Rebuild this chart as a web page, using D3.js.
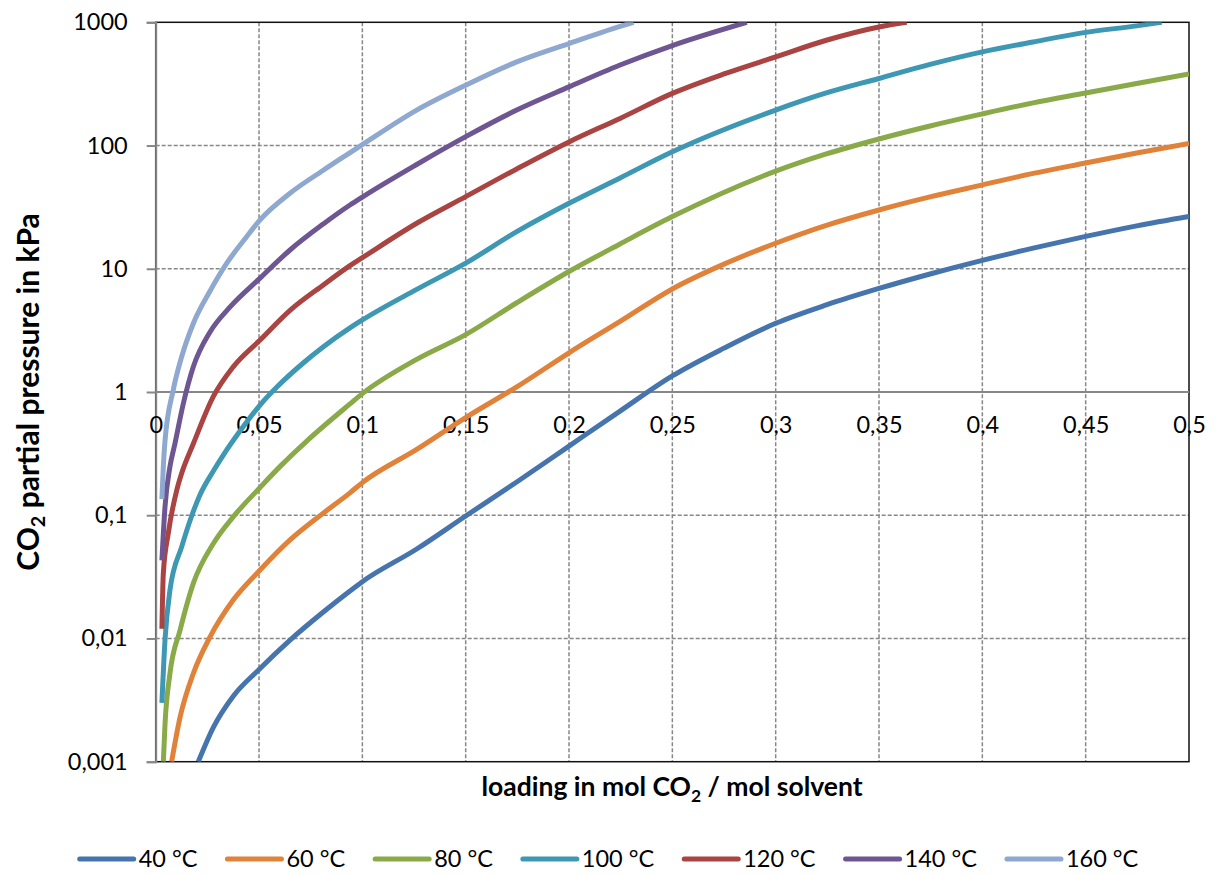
<!DOCTYPE html>
<html>
<head>
<meta charset="utf-8">
<script src="https://cdn.jsdelivr.net/npm/d3@7"></script>
<style>
  body { margin: 0; background: #fff; }
  svg { display: block; font-family: Lato, "Open Sans", sans-serif; }
</style>
</head>
<body>
<svg id="chart" width="1221" height="875"></svg>
<script>
// Equilibrium CO2 partial pressure vs. loading, one curve per temperature
const seriesNames = ["40 °C", "60 °C", "80 °C", "100 °C", "120 °C", "140 °C", "160 °C"];
const seriesColors = ["#4674AC", "#E0823A", "#8AAA4A", "#3E98B3", "#A94442", "#6E5693", "#8EA8D0"];

const xTicks = [0, 0.05, 0.1, 0.15, 0.2, 0.25, 0.3, 0.35, 0.4, 0.45, 0.5];
const xTickLabels = ["0", "0,05", "0,1", "0,15", "0,2", "0,25", "0,3", "0,35", "0,4", "0,45", "0,5"];
const yTicks = [0.001, 0.01, 0.1, 1, 10, 100, 1000];
const yTickLabels = ["0,001", "0,01", "0,1", "1", "10", "100", "1000"];

// [loading (mol CO2 / mol solvent), partial pressure (kPa)]
const p40 = [[0.0206, 0.001], [0.0279, 0.0019], [0.0375, 0.0034], [0.05, 0.0056], [0.065, 0.0097],
  [0.0811, 0.0164], [0.094, 0.0243], [0.1, 0.0289], [0.1263, 0.0532], [0.15, 0.0986], [0.1747, 0.186],
  [0.2, 0.364], [0.2247, 0.70], [0.25, 1.35], [0.275, 2.27], [0.3, 3.61], [0.3245, 5.09], [0.35, 6.92],
  [0.3747, 9.07], [0.4, 11.7], [0.4246, 14.7], [0.45, 18.3], [0.4747, 22.3], [0.5, 26.6]];
const p60 = [[0.0077, 0.001], [0.0118, 0.0023], [0.0182, 0.0052], [0.0263, 0.0103], [0.0375, 0.0205],
  [0.0505, 0.0359], [0.065, 0.063], [0.0811, 0.104], [0.094, 0.152], [0.1, 0.184], [0.1263, 0.342],
  [0.15, 0.62], [0.1747, 1.1], [0.2, 2.08], [0.2247, 3.74], [0.25, 6.86], [0.275, 10.9], [0.3, 16.1],
  [0.3245, 22.5], [0.35, 30], [0.3747, 38.3], [0.4, 47.9], [0.4246, 59.4], [0.45, 72.2], [0.4747, 87.1],
  [0.5, 104]];
const p80 = [[0.0037, 0.001], [0.0045, 0.002], [0.0069, 0.0052], [0.0118, 0.0117], [0.0182, 0.028],
  [0.0279, 0.059], [0.0375, 0.097], [0.0505, 0.168], [0.0601, 0.248], [0.0731, 0.4], [0.094, 0.8],
  [0.1, 0.97], [0.1263, 1.84], [0.15, 2.92], [0.1747, 5.3], [0.2, 9.5], [0.2247, 15.9], [0.25, 26.5],
  [0.3, 62], [0.3245, 85.5], [0.35, 113], [0.3747, 144], [0.4, 180.5], [0.4246, 222], [0.45, 267],
  [0.4747, 319], [0.5, 381]];
const p100 = [[0.003, 0.003], [0.0045, 0.0097], [0.0069, 0.0247], [0.0126, 0.0556], [0.0174, 0.0986],
  [0.0214, 0.146], [0.0279, 0.2285], [0.0327, 0.308], [0.0408, 0.483], [0.0505, 0.784], [0.0601, 1.16],
  [0.0714, 1.72], [0.081, 2.32], [0.094, 3.31], [0.1, 3.84], [0.1263, 6.8], [0.15, 11.1], [0.1747, 20],
  [0.2, 34], [0.2247, 54.6], [0.25, 89], [0.3, 194], [0.3245, 267], [0.35, 350], [0.3747, 455],
  [0.4, 575], [0.4246, 693], [0.45, 828], [0.4747, 935], [0.4868, 1000]];
const p120 = [[0.003, 0.012], [0.0037, 0.034], [0.0061, 0.0716], [0.0102, 0.16], [0.0126, 0.22],
  [0.0182, 0.38], [0.0279, 0.92], [0.0375, 1.6], [0.0505, 2.64], [0.065, 4.6], [0.0811, 7.39],
  [0.094, 10.6], [0.1, 12.3], [0.1263, 23.4], [0.15, 38.5], [0.1747, 64.6], [0.2, 107], [0.2247, 166],
  [0.25, 265], [0.275, 381], [0.3, 524], [0.3245, 715], [0.35, 917], [0.3634, 1000]];
const p140 = [[0.003, 0.043], [0.0045, 0.117], [0.0069, 0.248], [0.0093, 0.38], [0.0134, 0.81],
  [0.0182, 1.6], [0.0263, 3.07], [0.036, 4.9], [0.0505, 8.4], [0.065, 14.2], [0.0811, 23.1],
  [0.094, 32.9], [0.1, 38.2], [0.1263, 70.2], [0.15, 118], [0.1747, 194], [0.2, 299], [0.2247, 450],
  [0.25, 648], [0.286, 1000]];
const p160 = [[0.003, 0.135], [0.0037, 0.25], [0.0045, 0.4], [0.0085, 1.04], [0.0126, 1.94],
  [0.0182, 3.6], [0.0263, 6.6], [0.0344, 11.1], [0.044, 18.2], [0.0505, 24.9], [0.065, 41],
  [0.0811, 63], [0.0924, 84], [0.1, 101.7], [0.1263, 194], [0.15, 309], [0.1747, 477], [0.2, 672],
  [0.2247, 925], [0.2312, 1000]];

const seriesData = [p40, p60, p80, p100, p120, p140, p160];

const svg = d3.select("#chart");
const plotLeft = 155.7, plotRight = 1189, plotTop = 22.3, plotBottom = 761.7;

const x = d3.scaleLinear().domain([0, 0.5]).range([plotLeft, plotRight]);
const y = d3.scaleLog().domain([0.001, 1000]).range([plotBottom, plotTop]);

const fontSize = 23.5;
const gridColor = "#878787";

// Plot-area clip so curves stop at the frame
svg.append("defs").append("clipPath").attr("id", "plot-clip")
  .append("rect").attr("x", plotLeft).attr("y", plotTop)
  .attr("width", plotRight - plotLeft).attr("height", plotBottom - plotTop);

// Dashed gridlines
const grid = svg.append("g");
grid.selectAll("line.v").data(xTicks.slice(1, -1)).join("line")
  .attr("x1", d => x(d)).attr("x2", d => x(d))
  .attr("y1", plotTop).attr("y2", plotBottom)
  .attr("stroke", gridColor).attr("stroke-width", 1.5).attr("stroke-dasharray", "4,2");
grid.selectAll("line.h").data(yTicks.filter(v => v !== 1 && v !== 0.001 && v !== 1000)).join("line")
  .attr("x1", plotLeft).attr("x2", plotRight)
  .attr("y1", d => y(d)).attr("y2", d => y(d))
  .attr("stroke", gridColor).attr("stroke-width", 1.5).attr("stroke-dasharray", "4,2");

// Plot frame
svg.append("rect").attr("x", plotLeft).attr("y", plotTop)
  .attr("width", plotRight - plotLeft).attr("height", plotBottom - plotTop)
  .attr("fill", "none").attr("stroke", "#111").attr("stroke-width", 1.5);

// Horizontal axis line crossing at 1 kPa
svg.append("line").attr("x1", plotLeft).attr("x2", plotRight)
  .attr("y1", y(1)).attr("y2", y(1))
  .attr("stroke", gridColor).attr("stroke-width", 2);

// Vertical axis with outward ticks
const yAxis = d3.axisLeft(y).tickValues(yTicks)
  .tickFormat((d, i) => yTickLabels[i]).tickSize(9).tickPadding(19);
const yAxisG = svg.append("g").attr("transform", `translate(${plotLeft},0)`).call(yAxis);
yAxisG.select(".domain").attr("stroke", gridColor).attr("stroke-width", 2);
yAxisG.selectAll(".tick line").attr("stroke", gridColor).attr("stroke-width", 2);
yAxisG.selectAll(".tick text").attr("font-size", fontSize).attr("font-family", "Lato")
  .attr("fill", "#000");

// Horizontal tick labels hang below the 1 kPa line
const xAxis = d3.axisBottom(x).tickValues(xTicks)
  .tickFormat((d, i) => xTickLabels[i]).tickSize(0).tickPadding(24);
const xAxisG = svg.append("g").attr("transform", `translate(0,${y(1)})`).call(xAxis);
xAxisG.select(".domain").remove();
xAxisG.selectAll(".tick text").attr("font-size", fontSize).attr("font-family", "Lato")
  .attr("fill", "#000");

// Curves
const line = d3.line().x(d => x(d[0])).y(d => y(d[1])).curve(d3.curveMonotoneX);
svg.append("g").attr("clip-path", "url(#plot-clip)")
  .selectAll("path").data(seriesData).join("path")
  .attr("d", line)
  .attr("fill", "none")
  .attr("stroke", (d, i) => seriesColors[i])
  .attr("stroke-width", 5)
  .attr("stroke-linejoin", "round")
  .attr("stroke-linecap", "butt");

// Axis titles
const xTitleSize = 26.5;
const xTitle = svg.append("text")
  .attr("x", 672).attr("y", 796)
  .attr("text-anchor", "middle")
  .attr("font-size", xTitleSize).attr("font-weight", "bold").attr("fill", "#000");
xTitle.append("tspan").text("loading in mol CO");
xTitle.append("tspan").text("2").attr("font-size", xTitleSize * 0.66).attr("dy", 6);
xTitle.append("tspan").text(" / mol solvent").attr("dy", -6);

const yTitleSize = 30;
const yTitle = svg.append("text")
  .attr("transform", `translate(39,${(plotTop + plotBottom) / 2}) rotate(-90)`)
  .attr("text-anchor", "middle")
  .attr("font-size", yTitleSize).attr("font-weight", "bold").attr("fill", "#000");
yTitle.append("tspan").text("CO");
yTitle.append("tspan").text("2").attr("font-size", yTitleSize * 0.66).attr("dy", 6);
yTitle.append("tspan").text(" partial pressure in kPa").attr("dy", -6);

// Legend row
const legend = svg.append("g");
const legendY = 859, swatch = 54, swatchGap = 5, itemGap = 30;
const items = legend.selectAll("g").data(seriesNames).join("g");
items.append("line")
  .attr("x1", 0).attr("x2", swatch).attr("y1", 0).attr("y2", 0)
  .attr("stroke", (d, i) => seriesColors[i]).attr("stroke-width", 5)
  .attr("stroke-linecap", "round");
items.append("text")
  .attr("x", swatch + swatchGap).attr("y", 0).attr("dy", "0.35em")
  .attr("font-size", fontSize).attr("fill", "#000")
  .text(d => d);
let widths = [];
items.each(function () {
  widths.push(swatch + swatchGap + d3.select(this).select("text").node().getComputedTextLength());
});
const total = d3.sum(widths) + itemGap * (widths.length - 1);
let cx = 609 - total / 2;
items.attr("transform", (d, i) => {
  const t = `translate(${cx},${legendY})`;
  cx += widths[i] + itemGap;
  return t;
});
</script>
</body>
</html>
